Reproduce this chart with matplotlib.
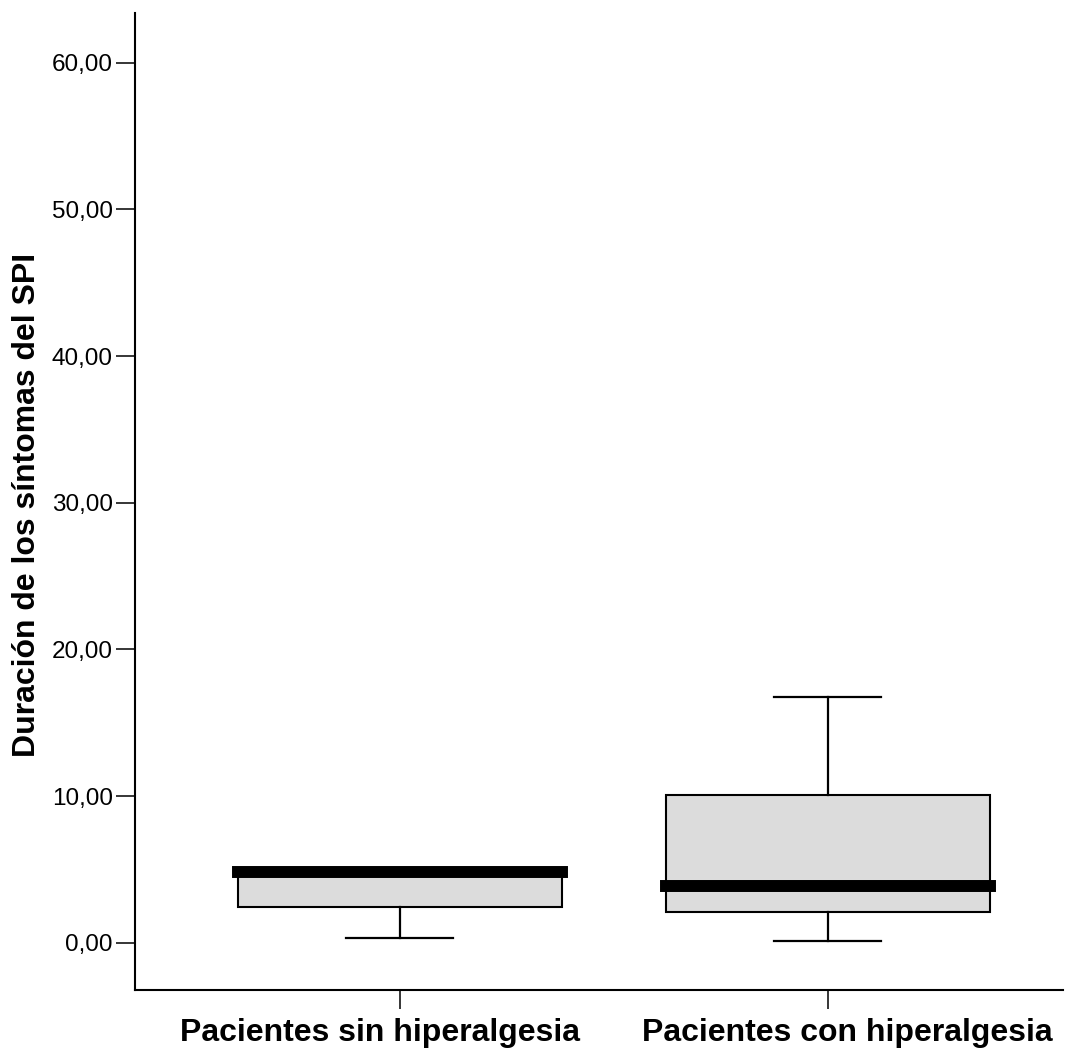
import matplotlib
matplotlib.use("Agg")
import matplotlib.pyplot as plt
from matplotlib.transforms import ScaledTranslation

plt.rcParams['font.family'] = ['Liberation Sans', 'DejaVu Sans']

categories = ["Pacientes sin hiperalgesia", "Pacientes con hiperalgesia"]
whislo = [0.30, 0.14]
q1 = [2.45, 2.09]
med = [4.80, 3.87]
q3 = [4.80, 10.07]
whishi = [4.80, 16.75]
yticks = [0, 10, 20, 30, 40, 50, 60]
ytick_labels = ["0,00", "10,00", "20,00", "30,00", "40,00", "50,00", "60,00"]
ylabel = "Duración de los síntomas del SPI"

W, H = 1079, 1049
fig = plt.figure(figsize=(W / 100, H / 100), dpi=100)
ax = fig.add_axes([135 / W, 1 - 990 / H, (1063 - 135) / W, (990 - 13) / H])

stats = []
for i, c in enumerate(categories):
    stats.append(dict(label=c, whislo=whislo[i], q1=q1[i], med=med[i], q3=q3[i],
                      whishi=whishi[i], fliers=[]))

positions = [1, 2]
ax.bxp(stats, positions=positions, widths=0.755, patch_artist=True,
       showfliers=False, capwidths=0.25,
       boxprops=dict(facecolor="#dcdcdc", edgecolor="black", linewidth=1.5),
       whiskerprops=dict(color="black", linewidth=1.6),
       capprops=dict(color="black", linewidth=1.6),
       medianprops=dict(color="black", linewidth=8.6, solid_capstyle="projecting"))

ax.set_xlim(1 - (400 - 135) / 428, 2 + (1063 - 828) / 428)
ax.set_ylim(-3.22, 63.39)
ax.set_yticks(yticks)
ax.set_yticklabels(ytick_labels, fontsize=17.5)
ax.set_xticks(positions)
ax.set_xticklabels(categories, fontsize=23, fontweight="bold")
ax.tick_params(axis="y", direction="out", length=14, width=1.1, pad=2)
ax.tick_params(axis="x", direction="out", length=14, width=1.1, pad=6)

# labels in the reference are spread slightly outward from their ticks
offsets_px = [-20, 19]
for lab, dx in zip(ax.get_xticklabels(), offsets_px):
    lab.set_transform(lab.get_transform() + ScaledTranslation(dx / 100, 0, fig.dpi_scale_trans))

for s in ["top", "right"]:
    ax.spines[s].set_visible(False)
for s in ["left", "bottom"]:
    ax.spines[s].set_linewidth(1.5)

fig.text(27 / W, 1 - 505 / H, ylabel, rotation=90, ha="center", va="center",
         fontsize=23, fontweight="bold")

fig.savefig("out.png", dpi=100)
